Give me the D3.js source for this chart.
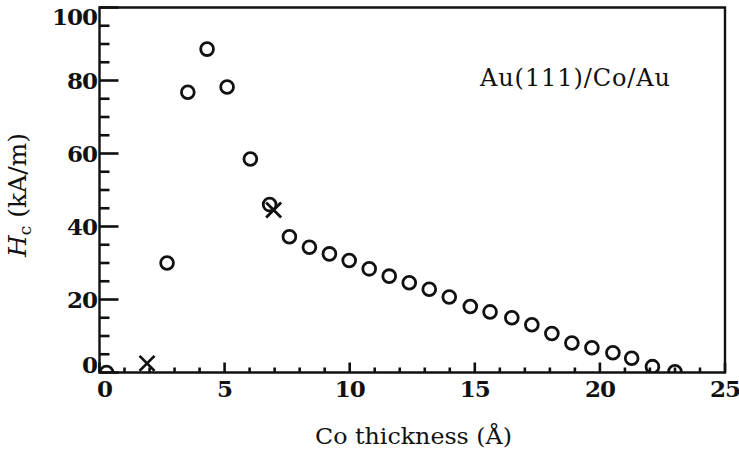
<!DOCTYPE html>
<html>
<head>
<meta charset="utf-8">
<script src="https://cdn.jsdelivr.net/npm/d3@7"></script>
<style>
  html, body { margin: 0; padding: 0; background: #fff; }
  svg { display: block; }
</style>
</head>
<body>
<svg id="chart" width="739" height="455"></svg>
<script>
// Coercivity vs Co thickness, Au(111)/Co/Au
const circleThickness = [0.28, 2.70, 3.53, 4.30, 5.10, 6.03, 6.80, 7.59, 8.39, 9.19, 9.98,
  10.78, 11.58, 12.38, 13.18, 13.98, 14.82, 15.61, 16.48, 17.28, 18.08, 18.88,
  19.68, 20.52, 21.27, 22.10, 23.00];
const circleHc = [0.0, 30.0, 76.8, 88.6, 78.2, 58.5, 46.0, 37.2, 34.3, 32.5, 30.7,
  28.4, 26.4, 24.6, 22.8, 20.7, 18.1, 16.6, 15.0, 13.1, 10.7, 8.1,
  6.8, 5.4, 3.9, 1.6, 0.2];
const crossThickness = [1.9, 6.96];
const crossHc = [2.5, 44.5];
const xMajorTicks = [0, 5, 10, 15, 20, 25];
const xMinorTicks = d3.range(0, 26, 1);
const yMajorTicks = [0, 20, 40, 60, 80, 100];
const yMinorTicks = d3.range(0, 101, 5);
const sampleLabel = "Au(111)/Co/Au";

const svg = d3.select("#chart");
const m = { left: 99.5, right: 725, top: 7.5, bottom: 372.5 };

const x = d3.scaleLinear().domain([0, 25]).range([m.left, m.right]);
const y = d3.scaleLinear().domain([0, 100]).range([m.bottom, m.top]);

const ink = "#111111";
const serif = "DejaVu Serif, serif";

// frame
svg.append("path")
  .attr("d", `M${m.left},${m.top}H${m.right}V${m.bottom}H${m.left}Z`)
  .attr("fill", "none").attr("stroke", ink).attr("stroke-width", 2.4);

// tick labels
const tickFont = g => g
  .attr("font-family", serif)
  .attr("font-weight", "bold")
  .attr("font-size", 23)
  .attr("letter-spacing", -1)
  .attr("fill", ink);

svg.append("g").call(tickFont)
  .selectAll("text").data(xMajorTicks).join("text")
  .attr("x", d => x(d) + (d === 0 ? 5 : 0))
  .attr("y", 389)
  .attr("dy", "0.36em")
  .attr("text-anchor", "middle")
  .text(d => d);

svg.append("g").call(tickFont)
  .selectAll("text").data(yMajorTicks).join("text")
  .attr("x", 97)
  .attr("y", d => d === 100 ? 16.5 : d === 0 ? 365 : y(d))
  .attr("dy", "0.36em")
  .attr("text-anchor", "end")
  .text(d => d);

// data, clipped to the plot area
svg.append("clipPath").attr("id", "plotClip")
  .append("rect")
  .attr("x", m.left).attr("y", m.top)
  .attr("width", m.right - m.left).attr("height", m.bottom - m.top);

const plot = svg.append("g").attr("clip-path", "url(#plotClip)");
plot.selectAll("circle").data(circleThickness).join("circle")
  .attr("cx", d => x(d))
  .attr("cy", (d, i) => y(circleHc[i]))
  .attr("r", 6.4)
  .attr("fill", "none")
  .attr("stroke", ink)
  .attr("stroke-width", 2.8);

const cs = 7.5;
plot.selectAll("path.cross").data(crossThickness).join("path")
  .attr("class", "cross")
  .attr("d", (d, i) => {
    const cx = x(d), cy = y(crossHc[i]);
    return `M${cx - cs},${cy - cs}L${cx + cs},${cy + cs}M${cx - cs},${cy + cs}L${cx + cs},${cy - cs}`;
  })
  .attr("stroke", ink)
  .attr("stroke-width", 2.8)
  .attr("fill", "none");

// annotation
svg.append("text")
  .attr("x", 480).attr("y", 86)
  .attr("font-family", serif)
  .attr("font-size", 24)
  .attr("fill", ink)
  .attr("textLength", 190)
  .text(sampleLabel);

// axis titles
svg.append("text")
  .attr("x", 413.5).attr("y", 444)
  .attr("text-anchor", "middle")
  .attr("font-family", serif)
  .attr("font-size", 23)
  .attr("fill", ink)
  .attr("textLength", 197)
  .attr("lengthAdjust", "spacingAndGlyphs")
  .text("Co thickness (Å)");

const yt = svg.append("text")
  .attr("transform", "translate(26,195) rotate(-90)")
  .attr("text-anchor", "middle")
  .attr("font-family", serif)
  .attr("font-size", 25)
  .attr("fill", ink);
yt.append("tspan").attr("font-style", "italic").text("H");
yt.append("tspan").attr("font-size", 17).attr("dy", 5).text("c");
yt.append("tspan").attr("dy", -5).text(" (kA/m)");

// inward ticks as filled bars, drawn last so nothing sits over them
const tw = 2.6;
const tickLayer = svg.append("g").attr("fill", ink);
tickLayer.selectAll("rect.xt").data(xMinorTicks).join("rect")
  .attr("class", "xt")
  .attr("x", d => x(d) - tw / 2)
  .attr("width", tw)
  .attr("y", d => m.bottom - (xMajorTicks.includes(d) ? 10 : 5))
  .attr("height", d => (xMajorTicks.includes(d) ? 10 : 5));
tickLayer.selectAll("rect.yt").data(yMinorTicks).join("rect")
  .attr("class", "yt")
  .attr("x", m.left)
  .attr("width", d => (yMajorTicks.includes(d) ? 19 : 10))
  .attr("y", d => y(d) - tw / 2)
  .attr("height", tw);
</script>
</body>
</html>
